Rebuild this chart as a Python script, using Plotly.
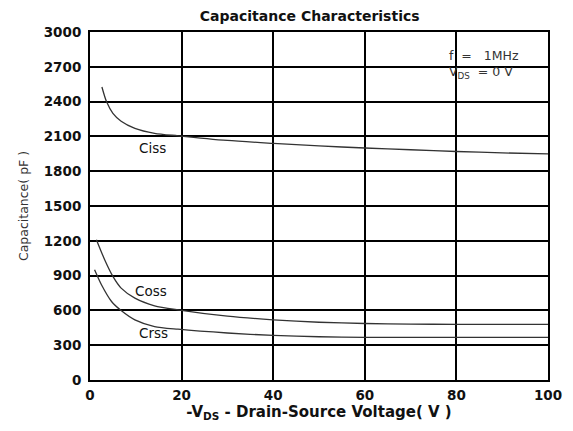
import plotly.graph_objects as go

ciss_v = [2.6, 3.6, 5.0, 6.8, 9.8, 14.1, 19.2, 30, 40, 50, 60, 70, 80, 90, 100]
ciss_c = [2526, 2400, 2299, 2231, 2170, 2127, 2105, 2065, 2040, 2018, 2000, 1985, 1970, 1958, 1950]
coss_v = [1.4, 3.2, 5.0, 6.8, 9.8, 14.1, 19.2, 30, 40, 50, 60, 70, 80, 90, 100]
coss_c = [1210, 1037, 893, 792, 706, 640, 605, 550, 519, 498, 487, 482, 480, 480, 480]
crss_v = [1.0, 2.5, 4.7, 6.8, 9.8, 14.1, 19.2, 30, 40, 50, 60, 70, 80, 90, 100]
crss_c = [950, 821, 677, 599, 519, 461, 438, 405, 384, 373, 368, 367, 367, 367, 367]

x_ticks = [0, 20, 40, 60, 80, 100]
y_ticks = [0, 300, 600, 900, 1200, 1500, 1800, 2100, 2400, 2700, 3000]

FONT = "DejaVu Sans"
fig = go.Figure()
for v, c in [(ciss_v, ciss_c), (coss_v, coss_c), (crss_v, crss_c)]:
    fig.add_trace(go.Scatter(x=v, y=c, mode="lines",
                             line=dict(color="#333333", width=1.3, shape="spline", smoothing=0.7),
                             showlegend=False, hoverinfo="skip"))

labels = [("Ciss", 10.3, 2000), ("Coss", 9.4, 763), ("Crss", 10.3, 406)]
for t, x, y in labels:
    fig.add_annotation(x=x, y=y, text=t, showarrow=False, xanchor="left", yanchor="middle",
                       font=dict(family=FONT, size=13.5, color="#111"))

fig.add_annotation(x=77.9, y=2718, text="f\u00a0\u00a0=\u00a0\u00a0\u00a01MHz<br>V<sub>DS</sub>\u00a0 = 0 V",
                   showarrow=False, xanchor="left", yanchor="middle", align="left",
                   font=dict(family=FONT, size=12.5, color="#333"))

fig.update_layout(
    width=565, height=423,
    margin=dict(l=82, r=25, t=24, b=51),
    paper_bgcolor="white", plot_bgcolor="white",
    title=dict(text="<b>Capacitance Characteristics</b>", x=0.534, xanchor="center", y=0.982, yanchor="middle",
               font=dict(family=FONT, size=14, color="#111")),
    xaxis=dict(range=[0, 100], tickvals=x_ticks, ticktext=[f"<b>{t}</b>" for t in x_ticks],
               showgrid=True, gridcolor="black", gridwidth=1.6, zeroline=False,
               showline=True, linecolor="black", linewidth=2, mirror=True, ticks="",
               tickfont=dict(family=FONT, size=13.5, color="#111"), ticklabelstandoff=2,
               title=dict(text="<b>-V<sub>DS</sub> - Drain-Source Voltage( V )</b>", standoff=0,
                          font=dict(family=FONT, size=15, color="#111"))),
    yaxis=dict(range=[0, 3000], tickvals=y_ticks, ticktext=[f"<b>{t}</b>" for t in y_ticks],
               showgrid=True, gridcolor="black", gridwidth=1.6, zeroline=False,
               showline=True, linecolor="black", linewidth=2, mirror=True, ticks="",
               tickfont=dict(family=FONT, size=13.5, color="#111"), ticklabelstandoff=4,
               title=dict(text="Capacitance( pF )", standoff=12,
                          font=dict(family=FONT, size=12.5, color="#333"))),
)
fig.write_html("out.html")
